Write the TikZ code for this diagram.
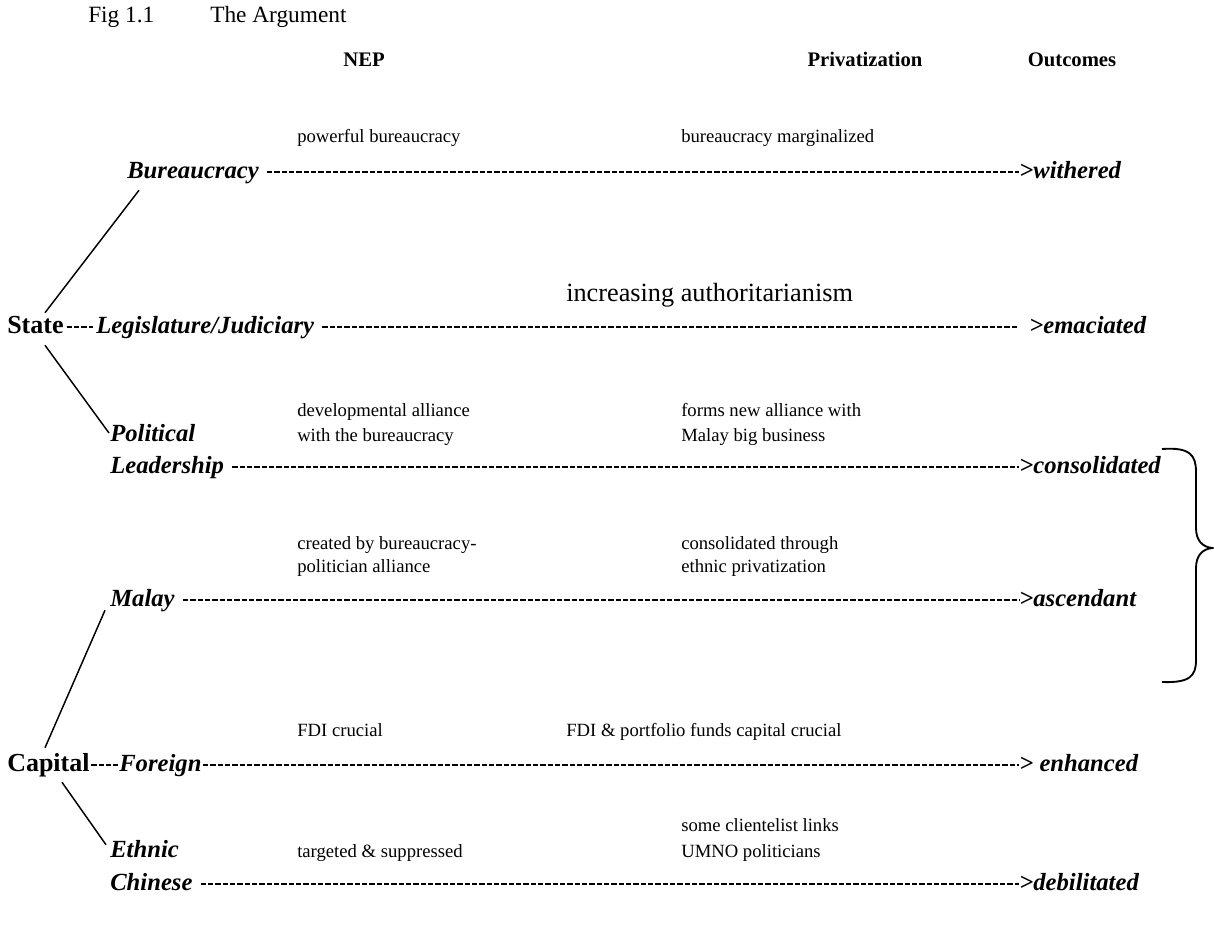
\documentclass[tikz,border=0pt]{standalone}
\usepackage{fontspec}
\setmainfont{Liberation Serif}
\usetikzlibrary{math,calc}

\tikzset{
  lbl/.style={font=\fontsize{18.5}{20}\selectfont\bfseries\itshape, inner sep=0pt, anchor=west, text height=9pt, text depth=0pt},
  root/.style={font=\fontsize{19.5}{21}\selectfont\bfseries, inner sep=0pt, anchor=west, text height=9pt, text depth=0pt},
  note/.style={font=\fontsize{14}{16}\selectfont, inner sep=0pt, anchor=west, text height=9pt, text depth=0pt},
  head/.style={font=\fontsize{15.5}{17}\selectfont\bfseries, inner sep=0pt, anchor=base},
  ttl/.style={font=\fontsize{17.5}{19}\selectfont, inner sep=0pt, anchor=base west},
  hyph/.style={line width=1.9pt, dash pattern=on 4pt off 1.5pt},
  link/.style={line width=1.1pt},
}

\begin{document}
\begin{tikzpicture}[x=0.75pt,y=-0.75pt]

\tikzmath{
\colA = 297;
\colB = 681;
\outx = 1019;
}

\useasboundingbox (0,0) rectangle (1214,940);

% title and column heads
\node[ttl] (fig) at (88,22) {Fig 1.1};
\node[ttl] (arg) at (210,22) {The Argument};
\node[head] (nep) at (364,66) {NEP};
\node[head] (priv) at (865,66) {Privatization};
\node[head] (outh) at (1072,66) {Outcomes};

% state side
\node[lbl] (bur) at (127,172) {Bureaucracy};
\node[root] (state) at (7,327) {State};
\node[lbl] (leg) at (96,327) {Legislature/Judiciary};
\node[lbl] (pol) at (110,435) {Political};
\node[lbl] (lead) at (110,467) {Leadership};

% capital side
\node[lbl] (mal) at (110,600) {Malay};
\node[root] (cap) at (7,765) {Capital};
\node[lbl] (fore) at (119,765) {Foreign};
\node[lbl] (eth) at (110,851) {Ethnic};
\node[lbl] (chi) at (110,884) {Chinese};

% outcomes
\node[lbl] (wit) at (\outx,172) {>withered};
\node[lbl] (ema) at (\outx+10,327) {>emaciated};
\node[lbl] (cns) at (\outx,467) {>consolidated};
\node[lbl] (asc) at (\outx,600) {>ascendant};
\node[lbl] (enh) at (\outx,765) {> enhanced};
\node[lbl] (deb) at (\outx,884) {>debilitated};

% notes, NEP column
\node[note] (pow) at (\colA,136) {powerful bureaucracy};
\node[note] (dev) at (\colA,410) {developmental alliance};
\node[note] (devb) at (\colA,435) {with the bureaucracy};
\node[note] (cre) at (\colA,543) {created by bureaucracy-};
\node[note] (creb) at (\colA,566) {politician alliance};
\node[note] (fdi) at (\colA,730) {FDI crucial};
\node[note] (tar) at (\colA,851) {targeted \& suppressed};

% notes, privatization column
\node[note] (marg) at (\colB,136) {bureaucracy marginalized};
\node[note, font=\fontsize{19.7}{21}\selectfont] (auth) at (566,295) {increasing authoritarianism};
\node[note] (newa) at (\colB,410) {forms new alliance with};
\node[note] (newb) at (\colB,435) {Malay big business};
\node[note] (cona) at (\colB,543) {consolidated through};
\node[note] (conb) at (\colB,566) {ethnic privatization};
\node[note] (fdip) at (566,730) {FDI \& portfolio funds capital crucial};
\node[note] (clia) at (\colB,825) {some clientelist links};
\node[note] (clib) at (\colB,851) {UMNO politicians};

% branches
\draw[link] ($(bur.south west)+(12,12)$) -- ($(state.north west)+(38,-8)$);
\draw[link] ($(state.south west)+(38,12)$) -- ($(pol.west)+(-1,-2)$);
\draw[link] ($(mal.south west)+(-5,4)$) -- ($(cap.north west)+(38,-11)$);
\draw[link] ($(cap.south west)+(55,11)$) -- ($(eth.north west)+(-4,0)$);

% dashed rows
\draw[hyph, shorten <=2pt, shorten >=2pt] (state.east) -- (leg.west);
\draw[hyph, shorten <=1pt, shorten >=1pt] (cap.east) -- (fore.west);
\draw[hyph, shorten <=6pt] (bur.east) -- (wit.west);
\draw[hyph, shorten <=6pt, shorten >=8pt] (leg.east) -- (ema.west);
\draw[hyph, shorten <=6pt] (lead.east) -- (cns.west);
\draw[hyph, shorten <=6pt] (mal.east) -- (asc.west);
\draw[hyph, shorten <=1pt] (fore.east) -- (enh.west);
\draw[hyph, shorten <=6pt] (chi.east) -- (deb.west);

% brace
\draw[line width=1.4pt] (1162,449) .. controls (1190,447) and (1196,455) .. (1196,472) -- (1196,528)
  .. controls (1196,541) and (1203,547) .. (1212,548)
  .. controls (1203,549) and (1196,555) .. (1196,568) -- (1196,660)
  .. controls (1196,676) and (1190,683) .. (1162,682);

\end{tikzpicture}
\end{document}
